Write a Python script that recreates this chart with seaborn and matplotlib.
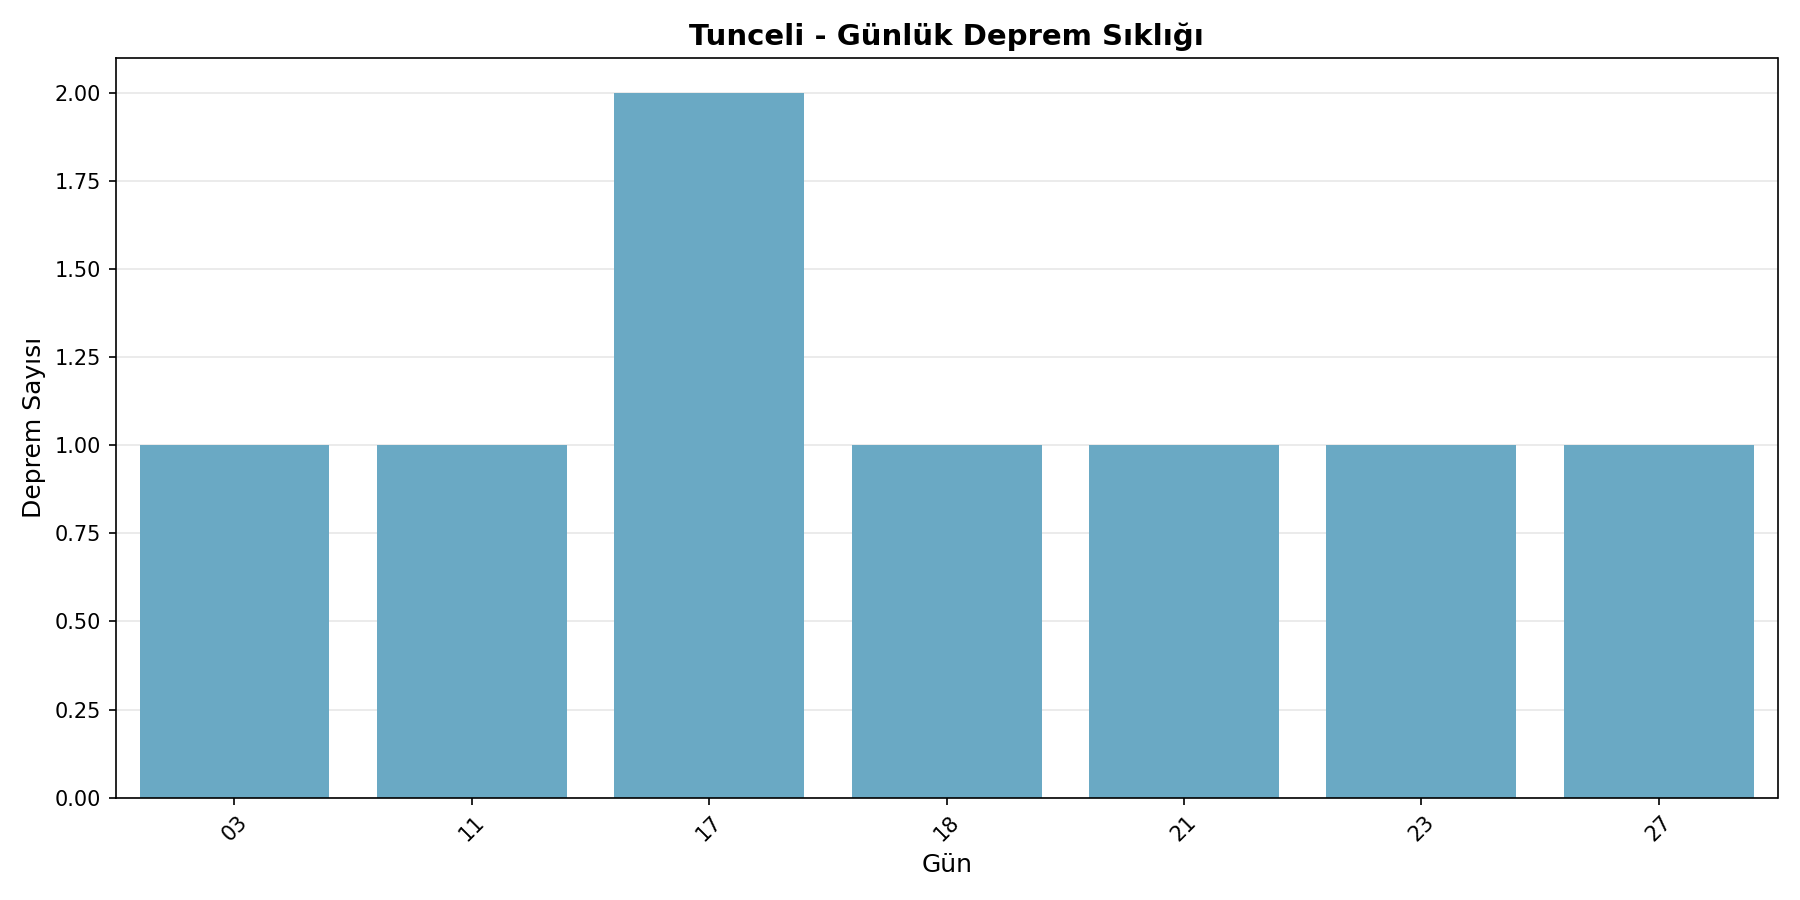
import matplotlib
matplotlib.use("Agg")
import matplotlib.pyplot as plt
import seaborn as sns
import pandas as pd

days = ["03", "11", "17", "18", "21", "23", "27"]
counts = [1, 1, 2, 1, 1, 1, 1]

df = pd.DataFrame({"Gün": days, "Deprem Sayısı": counts})

fig, ax = plt.subplots(figsize=(12, 6), dpi=150)
sns.barplot(data=df, x="Gün", y="Deprem Sayısı", color="#6aa9c4", saturation=1, width=0.8, ax=ax)
ax.set_title("Tunceli - Günlük Deprem Sıklığı", fontsize=14, fontweight="bold")
ax.set_xlabel("Gün", fontsize=12)
ax.set_ylabel("Deprem Sayısı", fontsize=12)
ax.set_ylim(0, 2.1)
ax.set_yticks([0, 0.25, 0.5, 0.75, 1.0, 1.25, 1.5, 1.75, 2.0])
ax.yaxis.set_major_formatter(matplotlib.ticker.FormatStrFormatter("%.2f"))
plt.setp(ax.get_xticklabels(), rotation=45)
ax.grid(axis="y", alpha=0.3)
ax.set_axisbelow(True)
plt.tight_layout()
fig.savefig("out.png")
